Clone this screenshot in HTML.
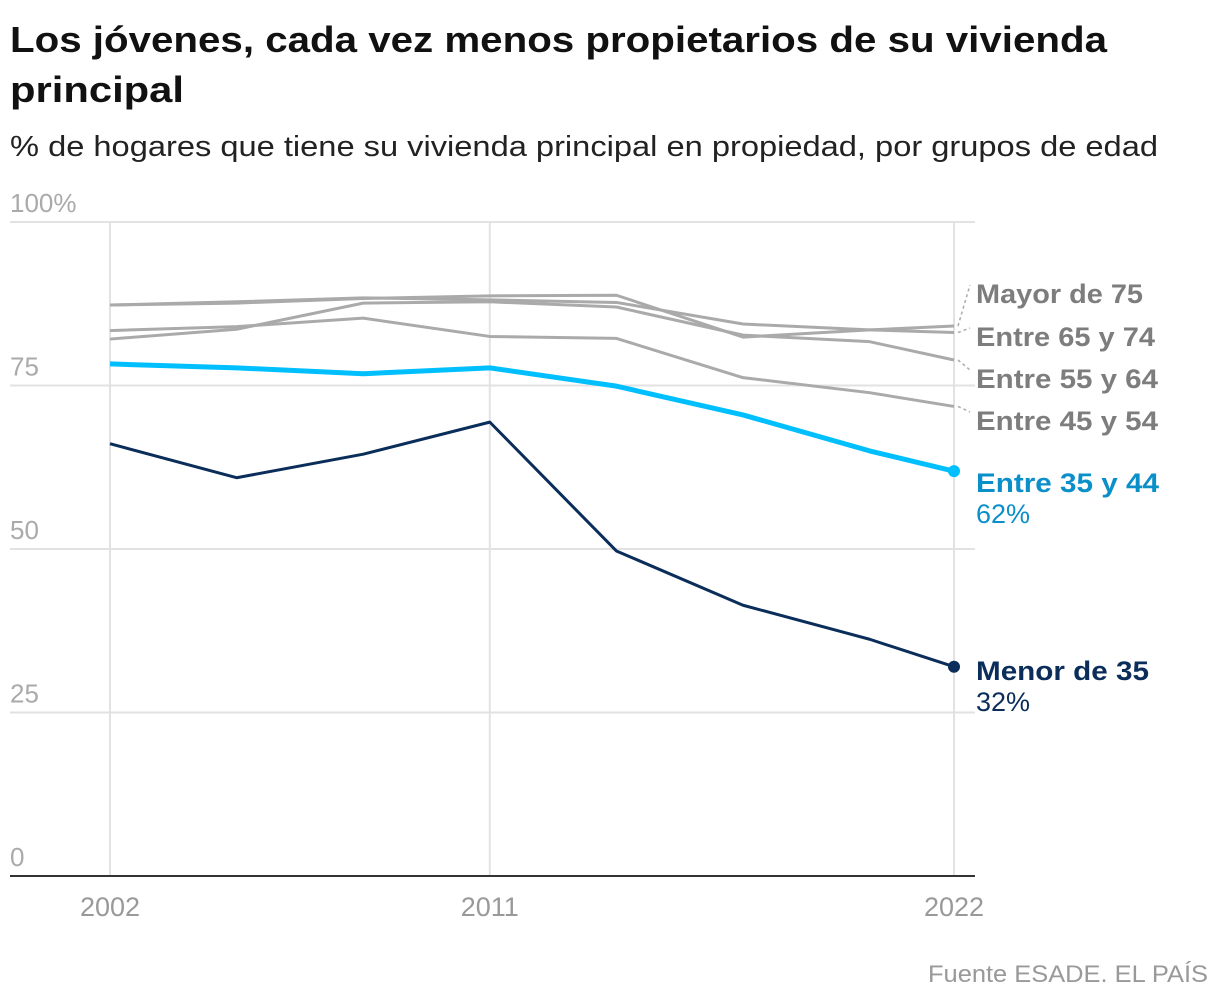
<!DOCTYPE html>
<html><head><meta charset="utf-8"><style>
body{margin:0;background:#fff;width:1220px;height:1002px;overflow:hidden;font-family:"Liberation Sans",sans-serif}
</style></head><body>
<svg width="1220" height="1002" style="position:absolute;left:0;top:0">
<text x="10" y="52" font-size="36" font-weight="bold" fill="#111" textLength="1097" lengthAdjust="spacingAndGlyphs">Los jóvenes, cada vez menos propietarios de su vivienda</text>
<text x="10" y="102" font-size="36" font-weight="bold" fill="#111" textLength="174" lengthAdjust="spacingAndGlyphs">principal</text>
<text x="10" y="156" font-size="29" fill="#222" textLength="1148" lengthAdjust="spacingAndGlyphs">% de hogares que tiene su vivienda principal en propiedad, por grupos de edad</text>
<g id="grid"></g><g id="lines"></g><g id="labels"></g>
<text x="1208" y="982" font-size="24" fill="#999" text-anchor="end" textLength="280" lengthAdjust="spacingAndGlyphs">Fuente ESADE. EL PAÍS</text>
</svg>
<script>
const years=[2002,2005,2008,2011,2014,2017,2020,2022];
const menor35=[66.1,60.9,64.5,69.4,49.7,41.4,36.2,32];
const e35_44=[78.3,77.7,76.8,77.7,74.9,70.5,65,61.9];
const e45_54=[83.4,84.0,85.3,82.5,82.2,76.2,73.9,71.8];
const e55_64=[82.1,83.6,87.6,87.8,87.0,82.7,81.7,78.9];
const e65_74=[87.3,87.8,88.4,88.1,87.7,84.4,83.5,83.1];
const mayor75=[87.3,87.6,88.3,88.7,88.8,82.4,83.5,84.1];
const yTicks=[0,25,50,75,100];
const yTickLabels=["0","25","50","75","100%"];
const xTicks=[2002,2011,2022];
const NS="http://www.w3.org/2000/svg";
const x=v=>110+(v-2002)*(954-110)/20;
const y=v=>876-v*6.54;
function mk(tag,attrs,parent,txt){const e=document.createElementNS(NS,tag);for(const k in attrs)e.setAttribute(k,attrs[k]);if(txt!=null)e.textContent=txt;document.getElementById(parent).appendChild(e);return e;}
yTicks.forEach((t,i)=>{
 if(t>0){const g=mk('line',{x1:10,x2:975,y1:y(t),y2:y(t),stroke:'#e2e2e2','stroke-width':2},'grid');
 
 }
 const l=mk('text',{x:10,y:y(t)-10,'font-size':26,fill:'#aaa'},'grid',yTickLabels[i]);
 
 
});
xTicks.forEach(t=>{
 const g=mk('line',{x1:x(t),x2:x(t),y1:222,y2:876,stroke:'#e2e2e2','stroke-width':2},'grid');
 
 
 const l=mk('text',{x:x(t),y:916,'font-size':27,fill:'#999','text-anchor':'middle'},'grid',String(t));
 
 
});
const ax=mk('line',{x1:10,x2:975,y1:876,y2:876,stroke:'#333','stroke-width':2},'grid');


const series=[
 {d:e45_54,c:'#aaa',w:3,n:'line-45-54',lab:'Entre 45 y 54',ly:420,tw:182},
 {d:e55_64,c:'#aaa',w:3,n:'line-55-64',lab:'Entre 55 y 64',ly:378,tw:182},
 {d:e65_74,c:'#aaa',w:3,n:'line-65-74',lab:'Entre 65 y 74',ly:336,tw:179},
 {d:mayor75,c:'#aaa',w:3,n:'line-mayor-75',lab:'Mayor de 75',ly:293,tw:167},
 {d:e35_44,c:'#00bfff',w:5,n:'line-35-44',lab:'Entre 35 y 44',ly:482,tc:'#0a8fc9',dot:1,tw:183},
 {d:menor35,c:'#0a2d5a',w:3,n:'line-menor-35',lab:'Menor de 35',ly:670,tc:'#0a2d5a',dot:1,tw:173}
];
series.forEach(s=>{
 const p=mk('polyline',{points:years.map((yr,i)=>x(yr)+','+y(s.d[i])).join(' '),fill:'none',stroke:s.c,'stroke-width':s.w,'stroke-linejoin':'round'},'lines');
 
 
 const last=s.d[s.d.length-1],ex=x(2022),ey=y(last);
 if(s.dot){const c=mk('circle',{cx:ex,cy:ey,r:6,fill:s.c},'lines');
  
  
  const v=mk('text',{x:976,y:s.ly+41,'font-size':27,fill:s.tc},'labels',Math.round(last)+'%');
  
  
 } else {
  const dl=mk('line',{x1:ex+4,y1:ey,x2:970,y2:s.ly-8,stroke:'#aaa','stroke-width':1.5,'stroke-dasharray':'3,3'},'labels');
  
  
 }
 const t=mk('text',{x:976,y:s.ly+10,'font-size':27,'font-weight':'bold',fill:s.tc||'#7d7d7d',textLength:s.tw,lengthAdjust:'spacingAndGlyphs'},'labels',s.lab);
 
 
});
</script>
</body></html>
